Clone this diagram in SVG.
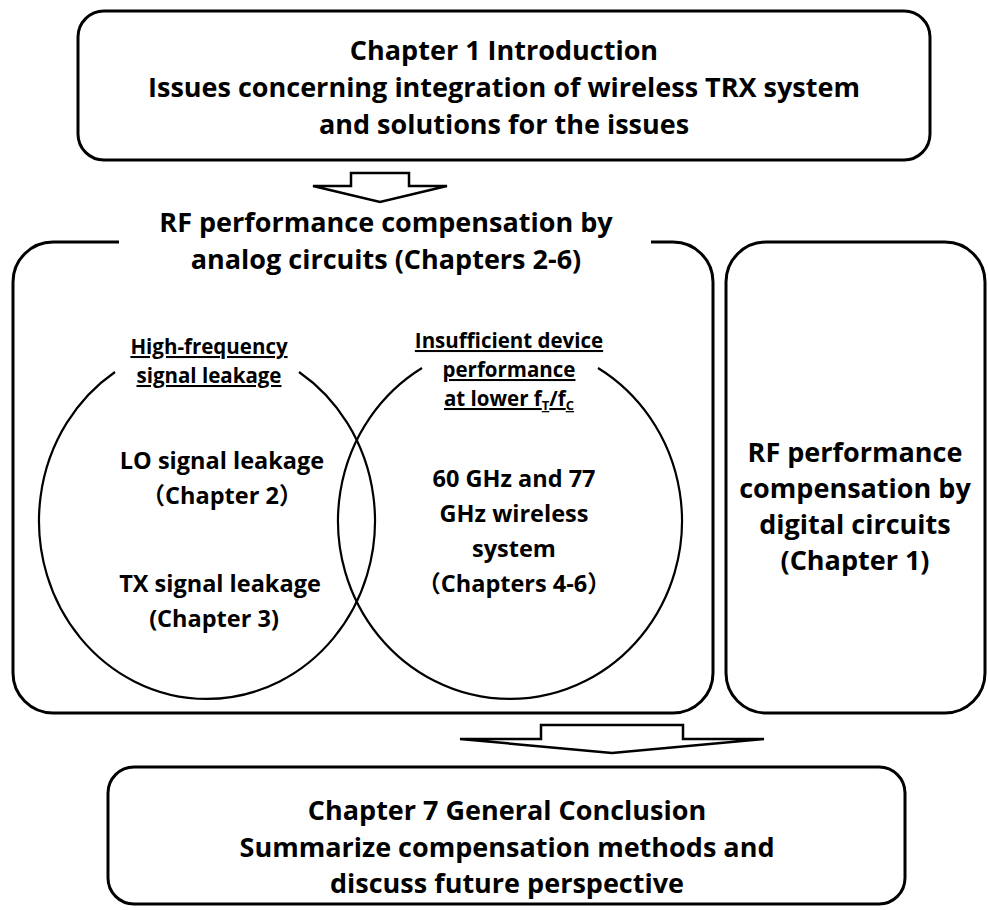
<svg xmlns="http://www.w3.org/2000/svg" width="988" height="910" viewBox="0 0 988 910">
  <style>
    .box { fill: #fff; stroke: #000; stroke-width: 3; }
    .line { fill: none; stroke: #000; stroke-width: 3; }
    .circ { fill: none; stroke: #000; stroke-width: 2.2; }
    .arrow { fill: #fff; stroke: #000; stroke-width: 2.5; stroke-linejoin: miter; }
    .t { font-family: "Open Sans", "Noto Sans CJK JP", sans-serif; font-weight: 700; fill: #000; text-anchor: middle; }
    .big { font-size: 27px; }
    .mid { font-size: 23.5px; }
    .lab { font-size: 20.5px; text-decoration: underline; }
  </style>

  <rect width="988" height="910" fill="#fff"/>

  <!-- Chapter 1 introduction box -->
  <g id="intro">
    <rect class="box" x="78" y="11" width="852" height="149" rx="26" ry="26"/>
    <text class="t big" x="504" y="60">Chapter 1 Introduction</text>
    <text class="t big" x="504" y="97">Issues concerning integration of wireless TRX system</text>
    <text class="t big" x="504" y="134">and solutions for the issues</text>
  </g>

  <!-- block arrows between stages -->
  <g id="connectors">
    <polygon class="arrow" points="351,173 409,173 409,186 447,186 380,202 313,186 351,186"/>
    <polygon class="arrow" points="541,725 683,725 683,739 764,739 612,753 460,739 541,739"/>
  </g>

  <!-- analog compensation frame, title set into the top edge -->
  <g id="analog">
    <path class="line" d="M 119 242 L 53 242 A 40 40 0 0 0 13 282 L 13 673 A 40 40 0 0 0 53 713 L 673 713 A 40 40 0 0 0 713 673 L 713 282 A 40 40 0 0 0 673 242 L 651 242"/>
    <text class="t big" x="386" y="232">RF performance compensation by</text>
    <text class="t big" x="386" y="269">analog circuits (Chapters 2-6)</text>
  </g>

  <!-- high-frequency signal leakage circle -->
  <g id="leakage">
    <path class="circ" d="M 115 372 A 168 178 0 1 0 299 372"/>
    <text class="t lab" x="209" y="354">High-frequency</text>
    <text class="t lab" x="209" y="383">signal leakage</text>
    <text class="t mid" x="222" y="469">LO signal leakage</text>
    <text class="t mid" x="222" y="504">（Chapter 2）</text>
    <text class="t mid" x="220" y="592">TX signal leakage</text>
    <text class="t mid" x="214" y="627">(Chapter 3)</text>
  </g>

  <!-- insufficient device performance circle -->
  <g id="device">
    <path class="circ" d="M 422 368 A 172 178 0 1 0 598 368"/>
    <text class="t lab" x="509" y="348">Insufficient device</text>
    <text class="t lab" x="509" y="377">performance</text>
    <text class="t lab" x="509" y="406">at lower f<tspan font-size="13" dy="4">T</tspan><tspan dy="-4">/f</tspan><tspan font-size="13" dy="4">C</tspan></text>
    <text class="t mid" x="514" y="487">60 GHz and 77</text>
    <text class="t mid" x="514" y="522">GHz wireless</text>
    <text class="t mid" x="514" y="557">system</text>
    <text class="t mid" x="514" y="592">（Chapters 4-6）</text>
  </g>

  <!-- digital compensation box -->
  <g id="digital">
    <rect class="box" x="726" y="242" width="259" height="471" rx="40" ry="40"/>
    <text class="t big" x="855" y="462">RF performance</text>
    <text class="t big" x="855" y="498">compensation by</text>
    <text class="t big" x="855" y="534">digital circuits</text>
    <text class="t big" x="855" y="570">(Chapter 1)</text>
  </g>

  <!-- Chapter 7 conclusion box -->
  <g id="conclusion">
    <rect class="box" x="108" y="767" width="797" height="137" rx="26" ry="26"/>
    <text class="t big" x="507" y="820">Chapter 7 General Conclusion</text>
    <text class="t big" x="507" y="857">Summarize compensation methods and</text>
    <text class="t big" x="507" y="893">discuss future perspective</text>
  </g>
</svg>
